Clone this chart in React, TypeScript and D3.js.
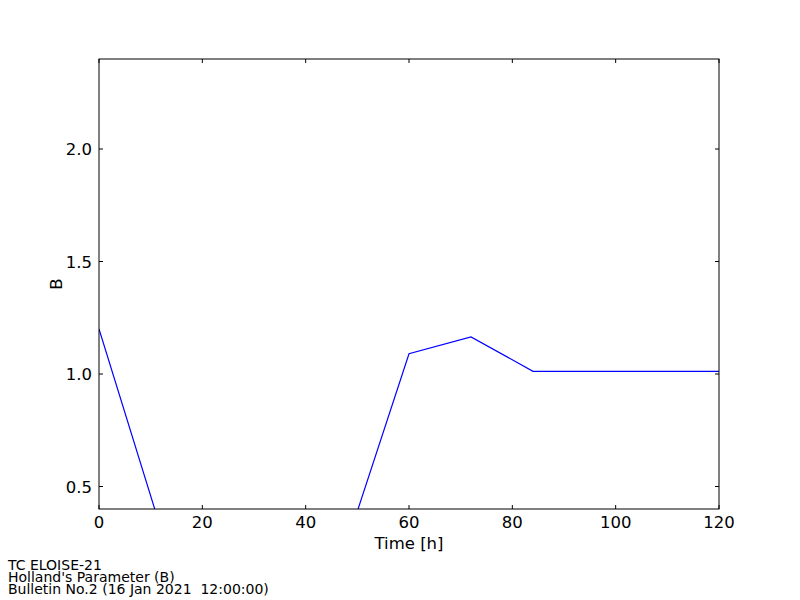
import React from "react";
import * as d3 from "d3";

const hours = [0, 12, 24, 36, 48, 60, 72, 84, 96, 108, 120];
const bValues = [1.2, 0.31, 0.3, 0.28, 0.25, 1.09, 1.165, 1.012, 1.012, 1.012, 1.012];
const xTicks = [0, 20, 40, 60, 80, 100, 120];
const yTicks = [0.5, 1.0, 1.5, 2.0];
const footer = ["TC ELOISE-21", "Holland's Parameter (B)", "Bulletin No.2 (16 Jan 2021  12:00:00)"];

export default function App() {
  const W = 800, H = 600;
  const L = 99, R = 719, T = 59, B = 509;
  const x = d3.scaleLinear().domain([0, 120]).range([L, R]);
  const y = d3.scaleLinear().domain([0.4, 2.4]).range([B, T]);
  const data = hours.map((h, i) => [h, bValues[i]] as [number, number]);
  const line = d3.line<[number, number]>().x(d => x(d[0])).y(d => y(d[1]));
  const font = "DejaVu Sans, sans-serif";
  return (
    <svg width={W} height={H} style={{ position: "absolute", left: 0, top: 0, background: "#fff" }}>
      <defs>
        <clipPath id="plot">
          <rect x={L} y={T} width={R - L} height={B - T} />
        </clipPath>
      </defs>
      <rect x={0} y={0} width={W} height={H} fill="#fff" />
      <path d={line(data) || ""} fill="none" stroke="#0000ff" strokeWidth={1.2} clipPath="url(#plot)" />
      {xTicks.map(t => (
        <g key={"x" + t}>
          <line x1={x(t)} x2={x(t)} y1={B} y2={B - 4} stroke="#000" />
          <line x1={x(t)} x2={x(t)} y1={T} y2={T + 4} stroke="#000" />
          <text x={x(t)} y={528} textAnchor="middle" fontFamily={font} fontSize={16.5}>{t}</text>
        </g>
      ))}
      {yTicks.map(t => (
        <g key={"y" + t}>
          <line x1={L} x2={L + 4} y1={y(t)} y2={y(t)} stroke="#000" />
          <line x1={R} x2={R - 4} y1={y(t)} y2={y(t)} stroke="#000" />
          <text x={92} y={y(t) + 6} textAnchor="end" fontFamily={font} fontSize={16.5}>{t.toFixed(1)}</text>
        </g>
      ))}
      <rect x={L} y={T} width={R - L} height={B - T} fill="none" stroke="#000" strokeWidth={1} />
      <text x={(L + R) / 2} y={549} textAnchor="middle" fontFamily={font} fontSize={16.5}>Time [h]</text>
      <text transform={`translate(62, ${(T + B) / 2}) rotate(-90)`} textAnchor="middle" fontFamily={font} fontSize={16.5}>B</text>
      {footer.map((s, i) => (
        <text key={i} x={8} y={570 + i * 12} fontFamily={font} fontSize={14} style={{ whiteSpace: "pre" }}>{s}</text>
      ))}
    </svg>
  );
}
